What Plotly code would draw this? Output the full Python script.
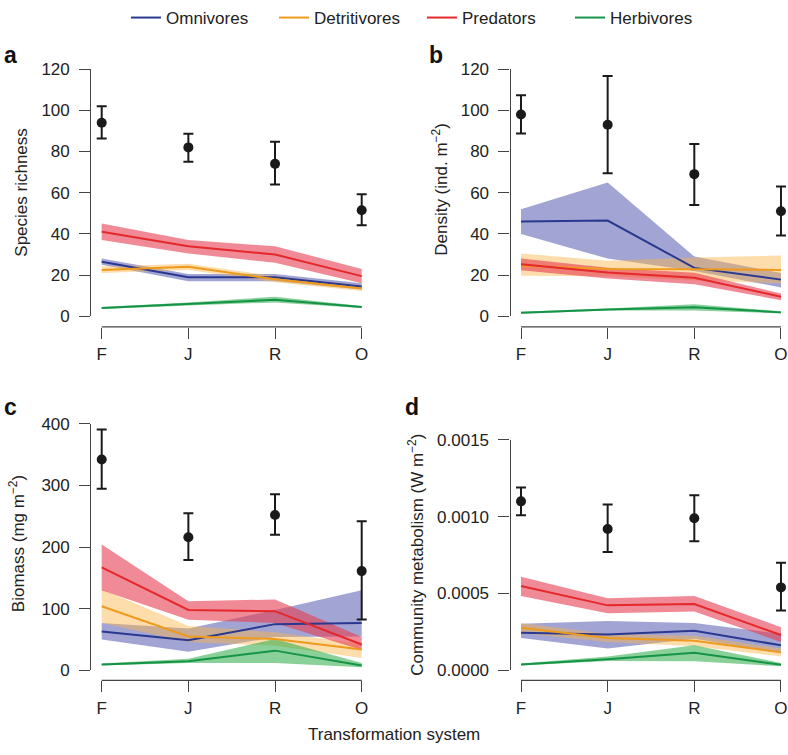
import plotly.graph_objects as go

categories = ["F", "J", "R", "O"]
groups = ["Omnivores", "Detritivores", "Predators", "Herbivores"]

# ---- Panel a: species richness ----
rich_total = [94, 82, 74, 51.5]
rich_total_low = [86.3, 75, 64, 44.2]
rich_total_high = [102, 88.6, 84.7, 59.2]
rich_omni = [26.5, 19, 19, 14.5]
rich_omni_low = [25, 17, 17, 13]
rich_omni_high = [28, 20.5, 20.5, 16]
rich_detr = [22.5, 24, 18, 13.5]
rich_detr_low = [21, 22.5, 16.5, 12.3]
rich_detr_high = [24.2, 25.5, 19.5, 15]
rich_pred = [41, 34, 30, 19.5]
rich_pred_low = [37, 30.5, 26, 16]
rich_pred_high = [45, 37, 34, 23]
rich_herb = [4, 6, 8, 4.5]
rich_herb_low = [3.5, 5.3, 6.7, 4]
rich_herb_high = [4.5, 6.7, 9.5, 5]

# ---- Panel b: density ----
dens_total = [98, 93, 69, 51]
dens_total_low = [88.7, 69.5, 54, 39.2]
dens_total_high = [107.3, 116.7, 83.6, 63]
dens_omni = [46, 46.5, 23.5, 17.8]
dens_omni_low = [40, 28, 22, 14]
dens_omni_high = [52, 65, 29, 21]
dens_detr = [24.5, 23, 22.8, 22.5]
dens_detr_low = [19.7, 19.5, 17.5, 16]
dens_detr_high = [30.5, 27, 28.5, 29.5]
dens_pred = [25.3, 21.2, 18.7, 9.5]
dens_pred_low = [22.3, 18.4, 15.6, 7.8]
dens_pred_high = [28.1, 23.6, 21.1, 11.1]
dens_herb = [1.7, 3.3, 4.4, 1.9]
dens_herb_low = [1.2, 2.8, 2.8, 1.4]
dens_herb_high = [2.2, 3.8, 5.9, 2.4]

# ---- Panel c: biomass ----
bio_total = [342, 216, 252, 161]
bio_total_low = [294.5, 179, 220, 82.5]
bio_total_high = [390.6, 255, 285.6, 241.8]
bio_omni = [63, 49, 75, 77]
bio_omni_low = [50, 30, 54, 55]
bio_omni_high = [77, 68, 98, 130]
bio_detr = [104, 55, 51, 34]
bio_detr_low = [77, 46, 40, 20]
bio_detr_high = [132, 72, 62, 43]
bio_pred = [167, 98, 96, 42]
bio_pred_low = [130, 82, 77, 33]
bio_pred_high = [204, 112, 115, 54]
bio_herb = [9.4, 14.6, 32, 7.8]
bio_herb_low = [8, 12, 12, 5]
bio_herb_high = [11, 18.8, 51, 12]

# ---- Panel d: community metabolism ----
met_total = [0.00110, 0.00092, 0.00099, 0.00054]
met_total_low = [0.00101, 0.00077, 0.00084, 0.00039]
met_total_high = [0.00119, 0.00108, 0.00114, 0.00070]
met_omni = [0.000245, 0.000233, 0.000258, 0.000163]
met_omni_low = [0.000210, 0.000142, 0.000205, 0.000111]
met_omni_high = [0.000304, 0.000321, 0.000308, 0.000237]
met_detr = [0.000277, 0.000210, 0.000193, 0.000117]
met_detr_low = [0.000241, 0.000184, 0.000157, 0.000090]
met_detr_high = [0.000308, 0.000237, 0.000226, 0.000142]
met_pred = [0.000549, 0.000423, 0.000432, 0.000230]
met_pred_low = [0.000484, 0.000371, 0.000383, 0.000184]
met_pred_high = [0.000610, 0.000469, 0.000484, 0.000281]
met_herb = [0.000038, 0.000073, 0.000115, 0.000036]
met_herb_low = [0.000032, 0.000061, 0.000059, 0.000027]
met_herb_high = [0.000044, 0.000090, 0.000163, 0.000048]

line_colors = ["#2A3990", "#EE9A1C", "#E4282B", "#159447"]
band_colors = ["rgba(70,75,170,0.5)", "rgba(250,180,70,0.45)",
               "rgba(230,60,80,0.6)", "rgba(40,170,70,0.55)"]

FONT = "Liberation Sans, Arial, Helvetica, sans-serif"
W, H = 788, 755
AX = "#444444"
xpos = list(range(len(categories)))

panels = [
    dict(name="a", total=(rich_total, rich_total_low, rich_total_high),
         groups=[(rich_omni, rich_omni_low, rich_omni_high),
                 (rich_detr, rich_detr_low, rich_detr_high),
                 (rich_pred, rich_pred_low, rich_pred_high),
                 (rich_herb, rich_herb_low, rich_herb_high)],
         yrange=[0, 120], dtick=20, fmt="", title="Species richness",
         xpx=(91.3, 372.1), xr=[-0.12, 3.12], ypx=(311, 55), axpx=322,
         letter=(10, 40), tpos=(22, 183)),
    dict(name="b", total=(dens_total, dens_total_low, dens_total_high),
         groups=[(dens_omni, dens_omni_low, dens_omni_high),
                 (dens_detr, dens_detr_low, dens_detr_high),
                 (dens_pred, dens_pred_low, dens_pred_high),
                 (dens_herb, dens_herb_low, dens_herb_high)],
         yrange=[0, 120], dtick=20, fmt="", title="Density (ind. m<sup>\u22122</sup>)",
         xpx=(510.6, 787.9), xr=[-0.12, 3.08], ypx=(311, 55), axpx=322,
         letter=(436, 40), tpos=(440, 180)),
    dict(name="c", total=(bio_total, bio_total_low, bio_total_high),
         groups=[(bio_omni, bio_omni_low, bio_omni_high),
                 (bio_detr, bio_detr_low, bio_detr_high),
                 (bio_pred, bio_pred_low, bio_pred_high),
                 (bio_herb, bio_herb_low, bio_herb_high)],
         yrange=[0, 400], dtick=100, fmt="", title="Biomass (mg m<sup>\u22122</sup>)",
         xpx=(91.3, 372.1), xr=[-0.12, 3.12], ypx=(677.7, 422.3), axpx=688,
         letter=(10, 405), tpos=(17, 547)),
    dict(name="d", total=(met_total, met_total_low, met_total_high),
         groups=[(met_omni, met_omni_low, met_omni_high),
                 (met_detr, met_detr_low, met_detr_high),
                 (met_pred, met_pred_low, met_pred_high),
                 (met_herb, met_herb_low, met_herb_high)],
         yrange=[0, 0.0015], dtick=0.0005, fmt=".4f",
         title="Community metabolism (W m<sup>\u22122</sup>)",
         xpx=(510.6, 787.9), xr=[-0.12, 3.08], ypx=(677.7, 439), axpx=688,
         letter=(412, 405), tpos=(416, 558)),
]

fig = go.Figure()
layout = dict(width=W, height=H, margin=dict(l=0, r=0, t=0, b=0),
              paper_bgcolor="white", plot_bgcolor="white",
              font=dict(family=FONT, size=17, color="#222222"),
              showlegend=True)
shapes = []
annotations = []

for i, p in enumerate(panels):
    k = "" if i == 0 else str(i + 1)
    xa, ya = "x" + k, "y" + k
    # bands
    for g, (mean, low, high) in enumerate(p["groups"]):
        fig.add_trace(go.Scatter(
            x=xpos + xpos[::-1], y=list(high) + list(low)[::-1],
            fill="toself", fillcolor=band_colors[g], line=dict(width=0),
            mode="lines", hoverinfo="skip", showlegend=False,
            xaxis=xa, yaxis=ya))
    # lines
    for g, (mean, low, high) in enumerate(p["groups"]):
        fig.add_trace(go.Scatter(
            x=xpos, y=mean, mode="lines", name=groups[g],
            line=dict(color=line_colors[g], width=2),
            showlegend=(i == 0), legendrank=g,
            xaxis=xa, yaxis=ya))
    # totals
    mean, low, high = p["total"]
    fig.add_trace(go.Scatter(
        x=xpos, y=mean, mode="markers",
        marker=dict(color="#1a1a1a", size=10),
        error_y=dict(type="data", symmetric=False,
                     array=[h - m for h, m in zip(high, mean)],
                     arrayminus=[m - l for m, l in zip(mean, low)],
                     color="#1a1a1a", thickness=2, width=5),
        cliponaxis=False, showlegend=False, xaxis=xa, yaxis=ya))

    xd = [p["xpx"][0] / W, p["xpx"][1] / W]
    yd = [1 - p["ypx"][0] / H, 1 - p["ypx"][1] / H]
    axy = 1 - p["axpx"] / H
    layout["xaxis" + k] = dict(
        domain=xd, range=p["xr"], anchor="free", position=axy,
        tickmode="array", tickvals=xpos, ticktext=categories,
        ticks="outside", ticklen=11, tickwidth=1.3, tickcolor=AX,
        showline=False, showgrid=False, zeroline=False,
        ticklabelstandoff=1, tickfont=dict(size=17))
    layout["yaxis" + k] = dict(
        domain=yd, range=p["yrange"], anchor=xa, dtick=p["dtick"], tick0=0,
        tickformat=p["fmt"], ticks="outside", ticklen=11, tickwidth=1.3,
        tickcolor=AX, showline=True, linecolor=AX, linewidth=1.3,
        showgrid=False, zeroline=False, ticklabelstandoff=6,
        tickfont=dict(size=17))
    shapes.append(dict(type="line", xref=xa, yref="paper",
                       x0=xpos[0], x1=xpos[-1], y0=axy, y1=axy,
                       line=dict(color=AX, width=1.3)))
    annotations.append(dict(text="<b>%s</b>" % p["name"], xref="paper", yref="paper",
                            x=p["letter"][0] / W, y=1 - p["letter"][1] / H,
                            xanchor="center", yanchor="middle", showarrow=False,
                            font=dict(size=23, color="#111111")))
    annotations.append(dict(text=p["title"], xref="paper", yref="paper",
                            x=p["tpos"][0] / W, y=1 - p["tpos"][1] / H,
                            xanchor="center", yanchor="middle", textangle=-90,
                            showarrow=False, font=dict(size=17, color="#222222")))

annotations.append(dict(text="Transformation system", xref="paper", yref="paper",
                        x=394 / W, y=1 - 744 / H, xanchor="center", yanchor="middle",
                        showarrow=False, font=dict(size=17, color="#222222")))

layout["shapes"] = shapes
layout["annotations"] = annotations
layout["legend"] = dict(orientation="h", x=126 / W, xanchor="left", y=1.022,
                        yanchor="top", font=dict(size=17), traceorder="normal",
                        entrywidth=103, entrywidthmode="pixels",
                        itemwidth=30, bgcolor="rgba(0,0,0,0)")
fig.update_layout(**layout)
fig.write_html("out.html", config={"displayModeBar": False},
               post_script="document.body.style.margin='0';document.body.style.overflow='hidden';")
